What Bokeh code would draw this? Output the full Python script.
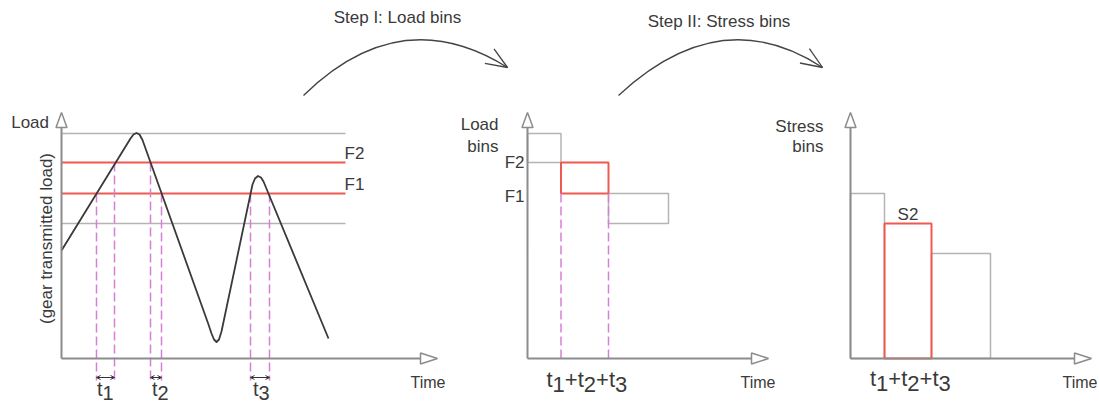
import math
from bokeh.plotting import figure
from bokeh.models import Range1d, Arrow, OpenHead
from bokeh.embed import file_html
from bokeh.resources import INLINE
from bokeh.core.properties import value

# ---------------- data (page coordinates) ----------------
# Panel 1: load history signal
load_time = [61, 130, 133, 136, 139, 142, 208, 211, 213.5, 216, 218.5, 221,
             252, 254.5, 257.5, 260.5, 263, 328]
load_value = [250, 138, 134, 132.5, 134, 139.5, 324, 333, 339, 341.5, 339, 331,
              184, 178, 175.5, 177, 181, 338]

# load levels (bin edges) in panel 1
level_y = [133, 162, 193, 223]
level_kind = ["edge", "F2", "F1", "edge"]
level_x_end = 345

# crossing times of the F1/F2 band
cross_t = [96, 114, 150, 161, 250, 269]
cross_level = [193, 162, 162, 193, 193, 193]
dur_start = [96, 150, 250]
dur_end = [114, 161, 269]
dur_names = ["1", "2", "3"]
dur_label_x = [96.5, 151.5, 252.5]

# Panel 2: load bins (time on x, load band on y)
lb_left = [527, 560.5, 608]
lb_right = [560.5, 608, 668]
lb_top = [133, 162, 193]
lb_bottom = [162, 193, 223]
lb_color = ["grey", "red", "grey"]
lb_dash_x = [560.5, 608]

# Panel 3: stress bins
sb_left = [850, 884, 931]
sb_right = [884, 931, 990]
sb_top = [193, 223, 253]
sb_color = ["grey", "red", "grey"]

# axes of the three panels
axis_x0 = [61, 527, 850]
axis_x_end = [420, 751, 1074]
axis_y0 = 358
axis_top = 127

# step arrows (quadratic curves)
step_x0 = [303, 618]
step_y0 = [95, 95]
step_cx = [400, 720]
step_cy = [0, 0]
step_x1 = [507, 822]
step_y1 = [67, 67]
step_text = ["Step I: Load bins", "Step II: Stress bins"]

# ---------------- styles ----------------
W, H = 1099, 405
DY = -6  # text baseline correction
FONT = value("Liberation Sans")
TXT = "#3a3a3a"
AXIS = "#8c8c8c"
GREY = "#b4b4b4"
RED = "#ef5a50"
MAG = "#d77fd6"
CURVE = "#3a3a3a"

p = figure(width=W, height=H, output_backend="svg", toolbar_location=None,
           x_range=Range1d(0, W), y_range=Range1d(H, 0),
           x_axis_type=None, y_axis_type=None, min_border=0,
           background_fill_color="white", border_fill_color="white")
p.grid.visible = False
p.outline_line_color = None


def col(c):
    return RED if c == "red" else GREY


def txt(xs, ys, texts, size="17px", align="left"):
    p.text(xs, [y + DY for y in ys], text=texts, text_font=FONT, text_font_size=size,
           text_color=TXT, text_align=align, text_baseline="alphabetic")


# ---- panel 1 ----
lv_col = [GREY if k == "edge" else RED for k in level_kind]
lv_w = [1.5 if k == "edge" else 2 for k in level_kind]
p.segment(x0=[axis_x0[0]] * 4, y0=level_y, x1=[level_x_end] * 4, y1=level_y,
          line_color=lv_col, line_width=lv_w)
p.segment(x0=cross_t, y0=cross_level, x1=cross_t, y1=[380] * len(cross_t),
          line_color=MAG, line_width=1.5, line_dash="9 4")
p.line(load_time, load_value, line_color=CURVE, line_width=1.8, line_join="round")

for k, y in zip(level_kind, level_y):
    if k != "edge":
        txt([level_x_end - 1], [y - 3], [k])

for a, b in zip(dur_start, dur_end):
    p.add_layout(Arrow(x_start=a, y_start=377, x_end=b, y_end=377,
                       start=OpenHead(size=4, line_width=1, line_color="#333"),
                       end=OpenHead(size=4, line_width=1, line_color="#333"),
                       line_width=1, line_color="#333"))

ADV = {"t": 0.278, "1": 0.556, "2": 0.556, "3": 0.556, "+": 0.584}


def sub_label(parts, x, y, size, drop):
    xs, ys, tx = [], [], []
    for s, sub in parts:
        xs.append(x)
        ys.append(y + (drop if sub else 0))
        tx.append(s)
        x += ADV[s] * size
    txt(xs, ys, tx, size=f"{size}px")


for n, lx in zip(dur_names, dur_label_x):
    sub_label([("t", 0), (n, 1)], lx, 394, 20, 4)

sum_parts = []
for i, n in enumerate(dur_names):
    sum_parts += [("t", 0), (n, 1)]
    if i < len(dur_names) - 1:
        sum_parts.append(("+", 0))

# ---- panel 2 ----
for c in ["grey", "red"]:
    idx = [i for i, cc in enumerate(lb_color) if cc == c]
    p.quad(left=[lb_left[i] for i in idx], right=[lb_right[i] for i in idx],
           top=[lb_top[i] for i in idx], bottom=[lb_bottom[i] for i in idx],
           fill_color=None, line_color=col(c), line_width=2 if c == "red" else 1.5)
p.segment(x0=lb_dash_x, y0=[lb_bottom[1]] * 2, x1=lb_dash_x, y1=[axis_y0] * 2,
          line_color=MAG, line_width=1.5, line_dash="9 4")
txt([524, 524], [lb_top[1] + 6, lb_bottom[1] + 9], ["F2", "F1"], align="right")
txt([498, 498], [130, 152], ["Load", "bins"], align="right")
sub_label(sum_parts, 546, 385, 22, 5)

# ---- panel 3 ----
for c in ["grey", "red"]:
    idx = [i for i, cc in enumerate(sb_color) if cc == c]
    p.quad(left=[sb_left[i] for i in idx], right=[sb_right[i] for i in idx],
           top=[sb_top[i] for i in idx], bottom=[axis_y0] * len(idx),
           fill_color=None, line_color=col(c), line_width=2 if c == "red" else 1.5)
txt([(sb_left[1] + sb_right[1]) / 2], [sb_top[1] - 3], ["S2"], align="center")
txt([823, 823], [132, 152], ["Stress", "bins"], align="right")
sub_label(sum_parts, 869.5, 384, 22, 5)

# ---- axes ----
p.segment(x0=axis_x0, y0=[axis_y0] * 3, x1=axis_x_end, y1=[axis_y0] * 3,
          line_color=AXIS, line_width=2)
p.segment(x0=axis_x0, y0=[axis_y0] * 3, x1=axis_x0, y1=[axis_top] * 3,
          line_color=AXIS, line_width=2)
up_xs = [[x, x - 5.5, x + 5.5] for x in axis_x0]
up_ys = [[axis_top - 15, axis_top, axis_top] for _ in axis_x0]
rt_xs = [[x + 17, x, x] for x in axis_x_end]
rt_ys = [[axis_y0, axis_y0 - 5.5, axis_y0 + 5.5] for _ in axis_x_end]
p.patches(up_xs + rt_xs, up_ys + rt_ys, fill_color="white", line_color=AXIS, line_width=1.5)

txt([410, 740, 1062], [388, 388, 388], ["Time"] * 3, size="16px")
txt([48.5], [128], ["Load"], align="right")
p.text([46], [238], text=["(gear transmitted load)"], text_font=FONT, text_font_size="17px",
       text_color=TXT, text_align="center", text_baseline="middle", angle=math.pi / 2)

# ---- step arrows ----
p.quadratic(x0=step_x0, y0=step_y0, x1=step_x1, y1=step_y1, cx=step_cx, cy=step_cy,
            line_color="#444444", line_width=1.3)
hx0, hy0, hx1, hy1 = [], [], [], []
L, ang = 23, math.radians(22)
for x1, y1, cx, cy in zip(step_x1, step_y1, step_cx, step_cy):
    ux, uy = x1 - cx, y1 - cy
    n = math.hypot(ux, uy)
    ux, uy = ux / n, uy / n
    for s in (1, -1):
        a = s * ang
        rx = ux * math.cos(a) - uy * math.sin(a)
        ry = ux * math.sin(a) + uy * math.cos(a)
        hx0.append(x1); hy0.append(y1); hx1.append(x1 - L * rx); hy1.append(y1 - L * ry)
p.segment(hx0, hy0, hx1, hy1, line_color="#444444", line_width=1.3)
txt([397, 718.5], [23, 27], step_text, align="center")

open("out.html", "w").write(file_html(p, INLINE))
